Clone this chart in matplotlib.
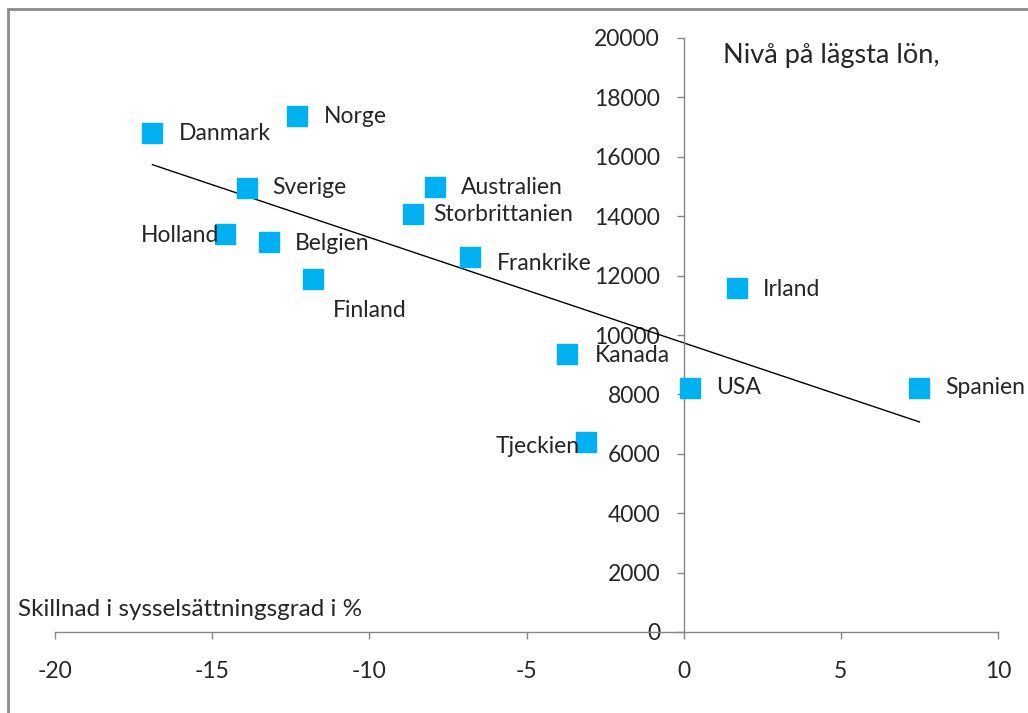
import matplotlib.pyplot as plt
from matplotlib.patches import Rectangle
import numpy as np

# data
countries = ['Danmark', 'Norge', 'Sverige', 'Australien', 'Storbrittanien', 'Holland',
             'Belgien', 'Frankrike', 'Finland', 'Irland', 'Kanada', 'USA', 'Spanien', 'Tjeckien']
diff = [-16.9, -12.3, -13.9, -7.9, -8.6, -14.6, -13.2, -6.8, -11.8, 1.7, -3.7, 0.2, 7.5, -3.1]
wage = [16800, 17370, 14950, 14980, 14070, 13400, 13130, 12630, 11890, 11580, 9360, 8220, 8220, 6400]

xticks = [-20, -15, -10, -5, 0, 5, 10]
yticks = list(range(0, 20001, 2000))

# label placement (offset in points, horizontal alignment)
label_pos = {
    'Danmark': (19, 0, 'left'), 'Norge': (19, 0, 'left'), 'Sverige': (18.5, 0, 'left'),
    'Australien': (18.5, 0, 'left'), 'Storbrittanien': (14, 0, 'left'),
    'Holland': (-4, -1, 'right'), 'Belgien': (19, -1, 'left'), 'Frankrike': (19.5, -4.5, 'left'),
    'Finland': (41, -23, 'center'), 'Irland': (18.5, -1, 'left'), 'Kanada': (19.5, -1, 'left'),
    'USA': (18.5, 0, 'left'), 'Spanien': (18.5, 0, 'left'), 'Tjeckien': (-5, -3.5, 'right'),
}

plt.rcParams['font.family'] = ['Lato', 'DejaVu Sans']
plt.rcParams['axes.unicode_minus'] = False
txt = '#262626'
grey = '#868686'

fig = plt.figure(figsize=(10.28, 7.13), dpi=100)
fig.patches.append(Rectangle((8 / 1028, -0.05), 1.1, 1 - 9 / 713 + 0.05, transform=fig.transFigure,
                             fill=False, edgecolor='#8c8c8c', lw=2))

ax = fig.add_axes([55 / 1028, 1 - 632 / 713, 943 / 1028, 594 / 713])
ax.set_xlim(-20, 10)
ax.set_ylim(0, 20000)

k, m = np.polyfit(diff, wage, 1)
xs = np.array([min(diff), max(diff)])
ax.plot(xs, k * xs + m, color='black', lw=1, zorder=2)
ax.plot(diff, wage, 's', ms=14, color='#00B0F0', zorder=3)

for name, x, y in zip(countries, diff, wage):
    dx, dy, ha = label_pos[name]
    ax.annotate(name, (x, y), xytext=(dx, dy), textcoords='offset points',
                ha=ha, va='center', fontsize=16.5, color=txt, zorder=4, annotation_clip=False)

ax.spines['left'].set_position(('data', 0))
ax.spines['top'].set_visible(False)
ax.spines['right'].set_visible(False)
for s in ('left', 'bottom'):
    ax.spines[s].set_color(grey)
    ax.spines[s].set_linewidth(1)

ax.set_xticks(xticks)
ax.set_yticks(yticks)
ax.tick_params(axis='both', direction='out', length=5, width=1, color=grey,
               labelsize=16.5, labelcolor=txt)
ax.tick_params(axis='y', pad=12)
ax.tick_params(axis='x', pad=16)

fig.text(723 / 1028, 1 - 55 / 713, 'Nivå på lägsta lön,', fontsize=19.5, color=txt, va='center')
fig.text(18 / 1028, 1 - 610 / 713, 'Skillnad i sysselsättningsgrad i %', fontsize=17.5,
         color=txt, va='center')

fig.savefig('out.png', dpi=100)
